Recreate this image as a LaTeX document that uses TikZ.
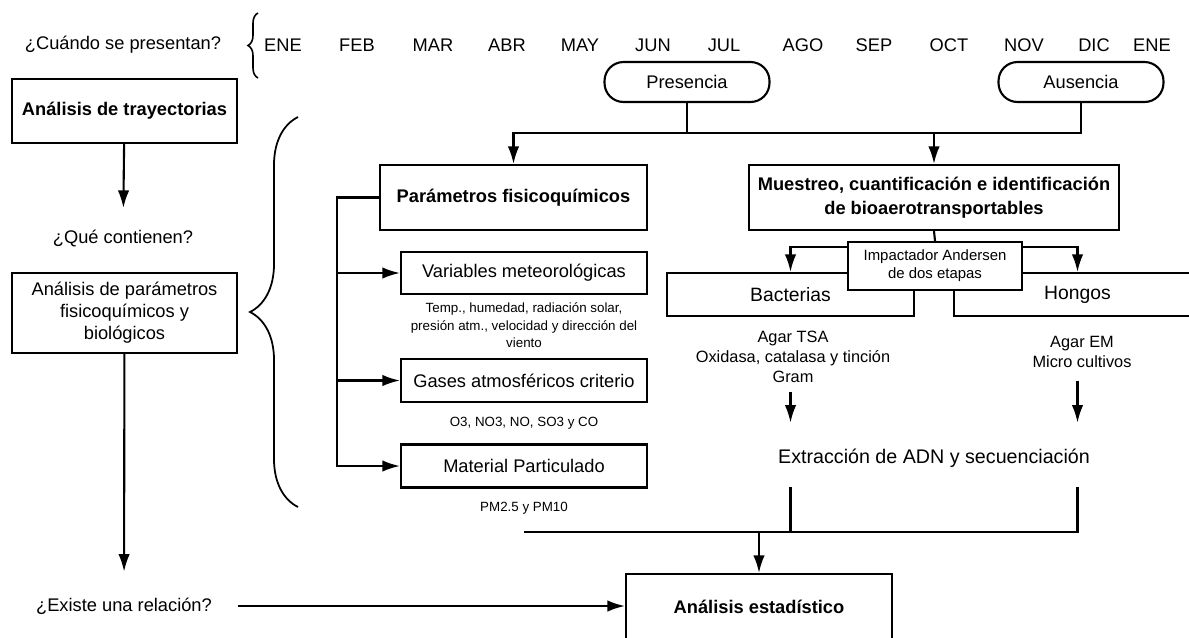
\documentclass[tikz,border=0pt]{standalone}
\usepackage{fontspec}
\setmainfont{Liberation Sans}
\usetikzlibrary{arrows.meta,decorations.pathreplacing}
\tikzset{flecha/.style={->, >={Latex[length=10pt,width=6.5pt]}}}
\tikzset{texto/.style={inner sep=0pt, font=\fontsize{10.4}{12.5}\selectfont}}
\tikzset{caja/.style={draw, fill=white, align=center, minimum width=4.92cm, minimum height=0.86cm, font=\fontsize{10.4}{12.5}\selectfont}}
\tikzset{estado/.style={draw, rounded corners=0.38cm, minimum width=3.3cm, minimum height=0.8cm, font=\fontsize{10.4}{12.5}\selectfont}}
\tikzset{nota/.style={align=center, inner sep=0pt, font=\fontsize{7.6}{9.9}\selectfont}}
\tikzset{cultivo/.style={align=center, inner sep=0pt, font=\fontsize{9.3}{11.3}\selectfont}}

\begin{document}
\begin{tikzpicture}[x=0.02cm, y=-0.02cm, line width=1.2pt]
      \useasboundingbox (0,0) rectangle (1189,637);

      % calendario
      \node[texto] (cuando) at (123,45) {¿Cuándo se presentan?};
      \draw[line width=0.9pt, decorate, decoration={brace, amplitude=0.2cm}] (258,78) -- (258,13);
      \foreach \m/\x [count=\i] in {ENE/283, FEB/357, MAR/433, ABR/507, MAY/580, JUN/653,
          JUL/724, AGO/803, SEP/874, OCT/949, NOV/1024, DIC/1094, ENE/1152}
        \node[texto] (mes\i) at (\x,45) {\m};

      \node[estado] (pres) at (687,82) {Presencia};
      \node[estado] (aus) at (1081,82) {Ausencia};

      % columna izquierda
      \node[caja, minimum width=4.5cm, minimum height=1.28cm, font=\fontsize{10.4}{12.5}\selectfont\bfseries] (traj) at (124.5,111) {Análisis de trayectorias};
      \node[texto] (qcont) at (123,238) {¿Qué contienen?};
      \node[caja, minimum width=4.5cm, minimum height=1.6cm] (anal) at (124.5,313) {Análisis de parámetros\\fisicoquímicos y\\biológicos};
      \node[texto] (qrel) at (124,606) {¿Existe una relación?};

      \draw[flecha, shorten >=0.41cm] (traj) -- (qcont);
      \draw[flecha, shorten >=0.5cm] (anal) -- (qrel);
      \draw[line width=1pt, decorate, decoration={brace, amplitude=0.96cm}] (298,507) -- (298,117);

      % parametros fisicoquimicos
      \node[caja, minimum width=5.34cm, minimum height=1.3cm, font=\fontsize{10.4}{12.5}\selectfont\bfseries] (param) at (513.5,197.5) {Parámetros fisicoquímicos};
      \node[caja, minimum height=0.84cm] (vars) at (524,273) {Variables meteorológicas};
      \node[nota] (vnota) at (524,325.5) {Temp., humedad, radiación solar,\\presión atm., velocidad y dirección del\\viento};
      \node[caja] (gases) at (524,380.5) {Gases atmosféricos criterio};
      \node[nota] (gnota) at (524,423) {O3, NO3, NO, SO3 y CO};
      \node[caja] (mat) at (524,466) {Material Particulado};
      \node[nota] (mnota) at (524,508) {PM2.5 y PM10};

      \draw[flecha] (param.west) -- ++(-42,0) coordinate (rama) |- (mat.west);
      \draw[flecha] (rama |- vars.west) -- (vars.west);
      \draw[flecha] (rama |- gases.west) -- (gases.west);

      % bioaerotransportables
      \node[caja, minimum width=7.4cm, minimum height=1.3cm, font=\fontsize{10.4}{13.6}\selectfont\bfseries] (muest) at (934,197.5) {Muestreo, cuantificación e identificación\\de bioaerotransportables};
      \node[caja, minimum width=4.94cm, font=\fontsize{11}{13}\selectfont] (bact) at (790.5,294.5) {Bacterias};
      \node[caja, minimum width=4.94cm, font=\fontsize{11}{13}\selectfont] (hong) at (1077.5,294.5) {Hongos};
      \node[caja, minimum width=3.48cm, minimum height=0.96cm, font=\fontsize{8.5}{10.2}\selectfont] (imp) at (935,266) {Impactador Andersen\\de dos etapas};
      \node[cultivo] (bnota) at (793,357) {Agar TSA\\Oxidasa, catalasa y tinción\\Gram};
      \node[cultivo] (hnota) at (1082,352) {Agar EM\\Micro cultivos};
      \node[texto, font=\fontsize{11.2}{13}\selectfont] (extr) at (934,458) {Extracción de ADN y secuenciación};
      \node[caja, minimum width=5.32cm, minimum height=1.32cm, font=\fontsize{10.4}{12.5}\selectfont\bfseries] (stat) at (759,607) {Análisis estadístico};

      \path (pres.south) ++(0,30) coordinate (bp);
      \path (aus.south) ++(0,30) coordinate (ba);
      \draw[flecha] (pres.south) -- (bp) -| (param.north);
      \draw[flecha] (aus.south) -- (ba) -| (muest.north);
      \draw (bp) -- (ba);

      \draw (muest.south) -- (imp.north);
      \draw[flecha] (imp.168) -| (bact.north);
      \draw[flecha] (imp.12) -| (hong.north);
      \draw[flecha, shorten <=0.16cm, shorten >=0.5cm] (bnota.south -| bact.south) -- (extr.north -| bact.south);
      \draw[flecha, shorten <=0.24cm, shorten >=0.5cm] (hnota.south -| hong.south) -- (extr.north -| hong.south);

      \coordinate (fin) at (524,532);
      \draw[shorten <=0.38cm] (extr.south -| bact.south) -- (fin -| bact.south);
      \draw[shorten <=0.38cm] (extr.south -| hong.south) -- (fin -| hong.south) -- (fin);
      \draw[flecha] (fin -| stat.north) -- (stat.north);
      \draw[flecha, shorten <=0.5cm] (qrel.east) -- (qrel.east -| stat.west);
\end{tikzpicture}
\end{document}
